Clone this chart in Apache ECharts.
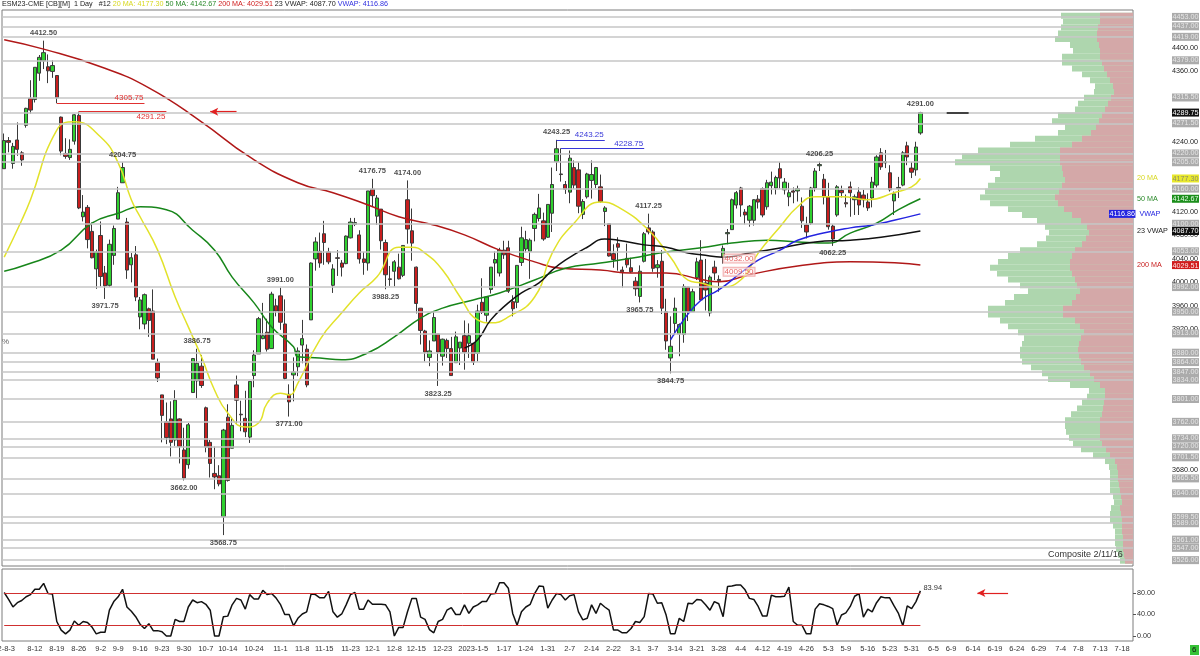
<!DOCTYPE html>
<html>
<head>
<meta charset="utf-8">
<script src="https://cdn.jsdelivr.net/npm/echarts@6/dist/echarts.min.js"></script>
<style>
html,body{margin:0;padding:0;background:#fff;}
#chart{width:1200px;height:656px;}
</style>
</head>
<body>
<div id="chart"></div>
<script>
// daily bars 2022-8-3 .. 2023-6-2, [open, close, low, high]
const candles = [
[4194,4242,4194,4254],[4242,4239,4222,4248],[4203,4232,4194,4238],[4243,4227,4216,4273],[4221,4209,4199,4224],
[4268,4297,4264,4298],[4314,4294,4288,4345],[4312,4367,4307,4367],[4357,4384,4344,4388],[4378,4392,4364,4412.5],
[4368,4361,4340,4389],[4360,4370,4349,4379],[4353,4315,4305.75,4353],[4282,4224,4217,4283],[4220,4215,4211,4246],
[4213,4227,4209,4244],[4241,4286,4235,4287],[4285,4127,4125,4291.25],[4112,4120,4104,4149],[4128,4073,4058,4132],
[4087,4042,4041,4102],[4023,4052,3989,4056],[4080,4010,3993,4104],[4016,3994,3971.75,4028],[3995,4065,3992,4073],
[4046,4092,4030,4097],[4108,4153,4108,4163],[4170,4196,4170,4204.75],[4103,4021,4006,4110],[4030,4042,4000,4050],
[4047,3975,3968,4062],[3941,3970,3920,3975],[3929,3979,3920,3981],[3955,3935,3907,3957],[3951,3869,3869,3988],
[3863,3837,3830,3870],[3808,3773,3727,3808],[3762,3735,3724,3795],[3767,3727,3703,3797],[3731,3799,3721,3816],
[3767,3720,3691,3768],[3714,3666,3662,3752],[3689,3757,3682,3760],[3812,3870,3812,3871],[3832,3862,3802,3886.75],
[3857,3824,3820,3876],[3786,3719,3710,3788],[3727,3691,3667,3731],[3674,3668,3647,3720],[3670,3656,3652,3688],
[3600,3748,3568.75,3750],[3770,3662,3660,3792],[3717,3756,3717,3768],[3825,3799,3759,3841],[3775,3774,3746,3798],
[3768,3745,3736,3815],[3736,3831,3726,3831],[3841,3876,3821,3884],[3878,3938,3878,3941],[3904,3909,3903,3965],
[3915,3886,3882,3938],[3887,3980,3887,3984],[3960,3951,3942,3972],[3977,3932,3919,3991],[3929,3836,3834,3971],
[3809,3796,3771,3826],[3842,3847,3797,3872],[3856,3883,3840,3889],[3893,3904,3862,3936],[3886,3825,3821,3894],
[3936,4033,3936,4034],[4040,4069,4020,4077],[4053,4033,4025,4085],[4083,4068,4030,4105],[4052,4035,4031,4059],
[3995,4023,3982,4031],[4042,4041,4011,4055],[4033,4026,4010,4038],[4032,4079,4031,4080],[4076,4103,4075,4110],
[4099,4102,4096,4110],[4081,4040,4032,4089],[4040,4034,4013,4052],[4033,4156,4020,4156],[4159,4148,4129,4176.75],
[4113,4144,4098,4149],[4125,4071,4056,4125],[4068,4013,3988.25,4073],[4006,4005,3994,4028],[4019,4035,3993,4038],
[4026,4006,4005,4049],[4012,4063,4009,4063],[4141,4091,4066,4174],[4088,4067,4037,4126],[4026,3964,3947,4027],
[3956,3918,3894,3956],[3917,3881,3865,3919],[3872,3883,3857,3901],[3900,3940,3900,3950],[3912,3881,3823.25,3912],
[3874,3903,3858,3904],[3901,3887,3871,3904],[3887,3841,3841,3907],[3863,3907,3863,3916],[3888,3898,3859,3898],
[3909,3881,3851,3935],[3896,3909,3871,3930],[3896,3864,3859,3896],[3879,3951,3865,3962],[3966,3949,3946,4007],
[3944,3975,3933,3975],[3988,4026,3981,4026],[4033,4039,3993,4053],[4016,4055,4010,4059],[4055,4047,4040,4071],
[4059,3985,3982,4071],[3967,3955,3942,3978],[3966,4029,3956,4029],[4034,4076,4028,4095],[4057,4073,4051,4088],
[4053,4072,4006,4075],[4092,4116,4070,4119],[4109,4127,4104,4151],[4105,4074,4071,4119],[4077,4133,4076,4133],
[4118,4167,4086,4196],[4206,4228,4190,4243.25],[4185,4184,4172,4228.75],[4167,4159,4151,4173],[4154,4212,4135,4225],
[4196,4166,4160,4208],[4192,4130,4118,4205],[4116,4138,4108,4142],[4146,4185,4143,4187],[4174,4184,4143,4208],
[4167,4196,4161,4197],[4163,4138,4136,4184],[4121,4127,4096,4130],[4100,4045,4044,4100],[4049,4039,4025,4065],
[4066,4060,4020,4077],[4021,4018,3991,4027],[4041,4030,4025,4066],[4025,4018,4016,4042],[4002,3989,3977,4009],
[3976,4019,3965.75,4029],[4036,4083,4034,4086],[4093,4086,4082,4117.25],[4086,4024,4018,4089],[4025,4030,4008,4038],
[4036,3956,3946,4055],[3950,3900,3885,3972],[3871,3891,3844.75,3942],[3930,3956,3910,3974],[3912,3928,3874,3930],
[3911,3993,3897,3997],[3992,3950,3934,3992],[3950,3984,3950,3989],[4008,4035,4004,4042],[4038,3970,3969,4072],
[3999,3987,3952,4040],[3948,4009,3942,4012],[4026,4016,4004,4037],[4005,4003,3984,4012],[4043,4058,4032,4063],
[4083,4085,4065,4091],[4090,4141,4090,4143],[4132,4153,4126,4156],[4161,4132,4112,4163],[4120,4115,4099,4125],
[4106,4130,4095,4132],[4106,4141,4097,4142],[4142,4137,4126,4149],[4160,4115,4111,4162],[4129,4170,4124,4175],
[4165,4171,4150,4189],[4161,4179,4150,4182],[4194,4178,4160,4205],[4158,4171,4150,4178],[4146,4153,4130,4170],
[4156,4154,4135,4162],[4156,4160,4138,4165],[4130,4105,4093,4145],[4098,4086,4075,4112],[4101,4161,4098,4163],
[4161,4190,4155,4195],[4199,4201,4190,4206.25],[4176,4146,4133,4185],[4146,4095,4090,4170],[4096,4074,4062.25,4099],
[4115,4163,4112,4166],[4157,4153,4145,4165],[4136,4134,4128,4150],[4163,4153,4112,4172],[4141,4146,4115,4150],
[4154,4132,4115,4162],[4149,4141,4128,4158],[4137,4127,4122,4152],[4144,4171,4128,4180],[4166,4214,4162,4217],
[4221,4197,4192,4229],[4204,4206,4195,4226],[4187,4158,4155,4200],[4139,4151,4115,4155],[4160,4162,4144,4180],
[4166,4221,4164,4224],[4233,4214,4200,4240],[4195,4188,4178,4205],[4192,4231,4182,4240],[4255,4289.75,4252,4291]
];

// stochastic-style oscillator, one value per bar
const osc = [
81,68,54,62,66,73,77,87,87,98, 79,78,27,11,4,11,28,20,27,25, 17,4,7,7,48,64,73,87,54,46,
36,22,14,23,10,10,8,0,0,31, 27,27,54,67,62,64,59,48,0,0, 36,37,58,70,67,50,77,69,69,85,
77,79,71,59,40,40,19,33,41,45, 78,77,71,71,83,45,35,41,58,77, 81,50,50,67,59,59,59,58,45,0,
16,16,45,70,70,35,31,12,6,27, 31,48,53,40,40,58,42,54,58,64, 64,78,79,99,99,89,42,20,45,54,
59,79,93,92,52,67,79,77,67,75, 77,45,30,33,58,42,61,54,48,11, 11,6,6,14,27,25,36,79,78,61,
62,39,4,4,33,27,61,60,68,67, 58,48,64,60,36,92,93,95,95,86, 70,68,55,37,37,76,73,73,74,91,
27,20,20,4,4,50,60,58,55,51, 20,39,43,55,74,79,35,50,45,62, 73,71,71,56,42,19,56,51,64,83.94
];

// indicator lines: [bar index, value]
const ma20 = [[0,4043],[4,4106],[6,4141],[12,4260],[16,4274],[22,4248],[26,4204],[29,4141],[31,4112],[35,4055],
[39,3975],[42,3924],[45,3873],[48,3816],[51,3777],[55,3753],[58,3760],[60,3794],[63,3811],[65,3808],[67,3828],
[72,3902],[77,3948],[81,3982],[85,4009],[90,4060],[93,4060],[96,4050],[100,4021],[104,3975],[108,3936],[111,3931],
[115,3941],[121,3975],[125,4050],[130,4101],[136,4137],[140,4129],[147,4089],[152,4043],[156,4004],[159,3999],
[163,3992],[168,4004],[172,4050],[177,4095],[181,4129],[185,4146],[191,4146],[197,4141],[203,4153],[207,4163],[209,4177.3]];
const ma50 = [[0,4019],[5,4030],[13,4055],[20,4101],[26,4118],[31,4129],[37,4124],[43,4089],[48,4055],[52,4009],
[57,3965],[61,3924],[66,3890],[67,3873],[72,3871],[77,3868],[83,3880],[89,3907],[95,3939],[100,3956],[107,3970],
[113,3982],[121,4004],[128,4024],[136,4033],[143,4041],[151,4052],[159,4059],[166,4067],[174,4072],[181,4069],
[188,4067],[193,4084],[199,4101],[204,4124],[209,4142.67]];
const ma200 = [[0,4414],[9,4398],[22,4368],[33,4332],[45,4274],[56,4214],[67,4170],[75,4153],[83,4132],[90,4112],
[98,4098],[105,4081],[113,4055],[121,4035],[127,4024],[136,4021],[143,4016],[151,4016],[159,4005],[163,4001],
[170,4013],[181,4028],[193,4035],[204,4033],[209,4029.51]];
const vwap23 = [[105,3888],[108,3902],[111,3936],[115,3965],[118,3982],[122,3999],[125,4021],[128,4038],[133,4060],
[137,4074],[140,4072],[146,4064],[151,4060],[156,4050],[159,4047],[164,4043],[170,4050],[178,4060],[185,4069],
[193,4072],[200,4077],[209,4087.7]];
const vwap = [[152,3902],[155,3936],[159,3970],[163,3987],[168,4016],[172,4038],[177,4055],[181,4072],[188,4086],
[193,4093],[198,4098],[203,4106],[209,4116.86]];

// swing labels
const highMarks = [[9,4412.5],[27,4204.75],[44,3886.75],[63,3991],[84,4176.75],[92,4174],[126,4243.25],[147,4117.25],[186,4206.25],[209,4291]];
const lowMarks = [[23,3971.75],[41,3662],[50,3568.75],[65,3771],[87,3988.25],[99,3823.25],[145,3965.75],[152,3844.75],[189,4062.25]];

// x tick labels
const tickIdx = [0,7,12,17,22,26,31,36,41,46,51,57,63,68,73,79,84,89,94,100,107,114,119,124,129,134,139,144,148,153,
158,163,168,173,178,183,188,192,197,202,207,212,216,221,226,231,236,241,245,250,255];
const tickLabels = ['22-8-3','8-12','8-19','8-26','9-2','9-9','9-16','9-23','9-30','10-7','10-14','10-24','11-1','11-8',
'11-15','11-23','12-1','12-8','12-15','12-23','2023-1-5','1-17','1-24','1-31','2-7','2-14','2-22','3-1','3-7','3-14',
'3-21','3-28','4-4','4-12','4-19','4-26','5-3','5-9','5-16','5-23','5-31','6-5','6-9','6-14','6-19','6-24','6-29',
'7-4','7-8','7-13','7-18'];

// price axis
const plainTicks = [4400,4360,4240,4120,4080,4040,4000,3960,3920,3680];
const levelPrices = [4453,4437,4419,4379,4315.5,4271.5,4220,4205,4160,4100,4053,3992,3950,3913,3880,3864,3847,3834,
3801,3762,3734,3720,3701.5,3665.5,3640,3599.5,3589,3561,3547,3526];
const lastPrice = 4289.75;

// volume profile, 10-pt bins from 4455 down to 3525
const profPrices = [4455,4445,4435,4425,4415,4405,4395,4385,4375,4365,4355,4345,4335,4325,4315,4305,4295,4285,4275,4265,
4255,4245,4235,4225,4215,4205,4195,4185,4175,4165,4155,4145,4135,4125,4115,4105,4095,4085,4075,4065,4055,4045,4035,
4025,4015,4005,3995,3985,3975,3965,3955,3945,3935,3925,3915,3905,3895,3885,3875,3865,3855,3845,3835,3825,3815,3805,
3795,3785,3775,3765,3755,3745,3735,3725,3715,3705,3695,3685,3675,3665,3655,3645,3635,3625,3615,3605,3595,3585,3575,
3565,3555,3545,3535,3525];
const profTotal = [72,70,72,75,78,63,60,71,71,61,51,43,38,39,49,55,58,75,81,68,75,98,123,155,171,178,143,133,138,145,
148,153,143,125,111,96,88,84,87,96,113,125,135,143,136,125,113,105,119,128,145,145,133,125,115,109,111,113,113,111,
102,91,85,63,44,46,51,56,62,68,68,67,64,60,52,40,28,24,23,23,23,23,20,19,22,23,23,20,18,18,18,17,15,13];
const profSell = [33,33,35,36,36,34,33,33,31,29,26,23,20,19,22,25,28,31,34,37,42,51,61,73,73,73,71,70,68,71,
74,78,75,69,61,52,46,44,47,51,58,61,63,63,61,58,56,53,57,61,70,70,58,53,49,52,54,55,54,52,
49,43,39,33,28,28,29,30,31,33,33,33,33,31,27,23,18,16,15,15,14,13,12,11,13,12,11,11,11,10,10,10,9,8];

const SLOTS = 258;
const slots = Array.from({length: SLOTS}, (_, i) => i);
const labelMap = {};
tickIdx.forEach((i, k) => { labelMap[i] = tickLabels[k]; });
const FONT = '"Liberation Sans", Arial, sans-serif';
const last = arr => arr[arr.length - 1][1];

const C_YEL = '#e2e22a', C_GRN = '#17861a', C_RED = '#b01818', C_BLU = '#2424e0';
const LBL = 7.2;

function maLabel(name, val, nameColor, boxBg, boxColor) {
    return {
        yAxis: val,
        lineStyle: { color: 'rgba(0,0,0,0)' },
        label: {
            distance: 4, backgroundColor: 'transparent', padding: 0,
            formatter: '{n|' + name + '}{v|' + val.toFixed(2) + '}',
            rich: {
                n: { color: nameColor, width: 35, fontSize: LBL, fontFamily: FONT },
                v: { backgroundColor: boxBg, color: boxColor, fontSize: LBL, padding: [1, 0.5, 0, 0.5], fontFamily: FONT }
            }
        }
    };
}

function seg(x1, x2, y, color, labelPos, text, width) {
    return [
        { coord: [x1, y], lineStyle: { color: color, width: width || 1 },
          label: text ? { show: true, position: labelPos, formatter: text, color: color, backgroundColor: 'transparent',
                          fontSize: 8, distance: 1, padding: 0 } : { show: false } },
        { coord: [x2, y] }
    ];
}

const markData = levelPrices.map(p => ({ yAxis: p, label: { formatter: p.toFixed(2) } }));
markData.push({ yAxis: lastPrice, label: { formatter: lastPrice.toFixed(2), backgroundColor: '#111', color: '#fff' } });
markData.push(maLabel('20 MA', last(ma20), '#d8d820', '#e8e82c', '#8c8c6a'));
markData.push(maLabel('50 MA', last(ma50), '#2a8a2a', '#1c8e1c', '#e6ffe6'));
markData.push(maLabel('200 MA', last(ma200), '#c82020', '#d01c1c', '#ffe6e6'));
markData.push(maLabel('23 VWAP', last(vwap23), '#222', '#111', '#fff'));
markData.push({
    yAxis: last(vwap), lineStyle: { color: 'rgba(0,0,0,0)' },
    label: { distance: 4, offset: [-28, 0], backgroundColor: 'transparent', padding: 0,
        formatter: '{v|' + last(vwap).toFixed(2) + '}{n|  VWAP}',
        rich: { v: { backgroundColor: C_BLU, color: '#fff', fontSize: LBL, padding: [1, 0.5, 0, 0.5], fontFamily: FONT },
                n: { color: C_BLU, fontSize: LBL, fontFamily: FONT } } }
});
markData.push(seg(12, 32, 4305.75, '#e03030', 'insideEndTop', '4305.75'));
markData.push(seg(17, 37, 4291.25, '#e03030', 'insideEndBottom', '4291.25'));
markData.push(seg(126, 137, 4243.25, '#3838d8', 'insideEndTop', '4243.25'));
markData.push(seg(127, 146, 4228.75, '#3838d8', 'insideEndTop', '4228.75'));
markData.push(seg(215, 220, lastPrice, '#111', null, null, 1.5));
markData.push([
    { coord: [53, 4291.25], symbol: 'none', lineStyle: { color: '#e02020', width: 1.2 }, label: { show: false } },
    { coord: [46.5, 4291.25], symbol: 'arrow', symbolSize: [6, 8] }
]);

const chart = echarts.init(document.getElementById('chart'));
chart.setOption({
    animation: false,
    backgroundColor: '#fff',
    textStyle: { fontFamily: FONT },
    grid: [
        { left: 2, right: 67, top: 10, bottom: 90, show: true, borderColor: '#7d7d7d', borderWidth: 1, outerBoundsMode: 'none' },
        { left: 2, right: 67, top: 569, bottom: 15, show: true, borderColor: '#7d7d7d', borderWidth: 1, outerBoundsMode: 'none' },
        { left: 833, right: 67, top: 12.8, bottom: 92.3, outerBoundsMode: 'none' }
    ],
    xAxis: [
        { type: 'category', gridIndex: 0, data: slots, boundaryGap: true,
          axisLine: { show: false }, axisTick: { show: false }, axisLabel: { show: false }, splitLine: { show: false } },
        { type: 'category', gridIndex: 1, data: slots, boundaryGap: true,
          axisLine: { show: false }, axisTick: { show: false }, splitLine: { show: false },
          axisLabel: { interval: i => labelMap[i] !== undefined, formatter: v => labelMap[Number(v)] || '',
                       fontSize: 7.5, color: '#333', margin: 4, fontFamily: FONT } },
        { type: 'value', gridIndex: 2, inverse: true, min: 0, max: 300, show: false }
    ],
    yAxis: [
        { type: 'value', gridIndex: 0, position: 'right', min: 3516, max: 4464.8, scale: true,
          axisLine: { show: false }, axisTick: { show: false }, splitLine: { show: false },
          axisLabel: { customValues: plainTicks, formatter: v => v.toFixed(2), fontSize: LBL, color: '#222',
                       margin: 39, fontFamily: FONT } },
        { type: 'value', gridIndex: 1, position: 'right', min: -9.3, max: 124.7,
          axisLine: { show: false }, splitLine: { show: false },
          axisTick: { show: true, customValues: [0, 40, 80], length: 3, lineStyle: { color: '#555' } },
          axisLabel: { customValues: [0, 40, 80], formatter: v => v.toFixed(2), fontSize: LBL, color: '#333',
                       margin: 4, fontFamily: FONT } },
        { type: 'category', gridIndex: 2, data: profPrices, inverse: true, show: false }
    ],
    graphic: [
        { type: 'text', left: 2, top: 1, z: 100, style: {
            text: '{k|ESM23-CME [CB][M]  1 Day   #12 }{y|20 MA: ' + last(ma20).toFixed(2) + ' }{g|50 MA: ' + last(ma50).toFixed(2) +
                  ' }{r|200 MA: ' + last(ma200).toFixed(2) + ' }{k|23 VWAP: ' + last(vwap23).toFixed(2) + ' }{b|VWAP: ' + last(vwap).toFixed(2) + '}',
            font: '7.2px ' + FONT,
            rich: { k: { fill: '#222', fontSize: 7.2 }, y: { fill: '#d8d820', fontSize: 7.2 }, g: { fill: '#2a8a2a', fontSize: 7.2 },
                    r: { fill: '#d02020', fontSize: 7.2 }, b: { fill: '#3030e0', fontSize: 7.2 } } } },
        { type: 'text', left: 2, top: 338, z: 100, style: { text: '%', fill: '#666', font: '8px ' + FONT } },
        { type: 'text', left: 1048, top: 550, z: 100, style: { text: 'Composite 2/11/16', fill: '#333', font: '9px ' + FONT } },
        { type: 'rect', left: 1190, top: 645, z: 100, shape: { width: 9, height: 10 }, style: { fill: '#36c236' } },
        { type: 'text', left: 1192, top: 646, z: 101, style: { text: '6', fill: '#111', font: '8px ' + FONT } }
    ],
    series: [
        { name: 'profile', type: 'bar', xAxisIndex: 2, yAxisIndex: 2, data: profTotal, barWidth: '100%',
          itemStyle: { color: '#aed6ae' }, silent: true, z: 1 },
        { name: 'profile sell', type: 'bar', xAxisIndex: 2, yAxisIndex: 2, data: profSell, barWidth: '100%',
          barGap: '-100%', itemStyle: { color: '#d4a8a8' }, silent: true, z: 1 },
        { name: 'ESM23', type: 'candlestick', xAxisIndex: 0, yAxisIndex: 0, data: candles, barWidth: 3.8, z: 3,
          itemStyle: { color: '#2fd02f', color0: '#c81e1e', borderColor: '#3a3a3a', borderColor0: '#3a3a3a', borderWidth: 1 },
          markLine: { symbol: 'none', silent: true, precision: 2,
                      lineStyle: { color: '#c6c6c6', width: 1.5, type: 'solid' },
                      label: { position: 'end', distance: 39, backgroundColor: '#ababab', color: '#e6e6e6', fontSize: LBL,
                               padding: [1, 0.5, 0, 0.5], fontFamily: FONT },
                      data: markData } },
        { name: '200 MA', type: 'line', xAxisIndex: 0, yAxisIndex: 0, data: ma200, smooth: true, showSymbol: false,
          lineStyle: { color: C_RED, width: 1.5 }, z: 4 },
        { name: '50 MA', type: 'line', xAxisIndex: 0, yAxisIndex: 0, data: ma50, smooth: true, showSymbol: false,
          lineStyle: { color: C_GRN, width: 1.5 }, z: 4 },
        { name: '20 MA', type: 'line', xAxisIndex: 0, yAxisIndex: 0, data: ma20, smooth: true, showSymbol: false,
          lineStyle: { color: C_YEL, width: 1.5 }, z: 4 },
        { name: '23 VWAP', type: 'line', xAxisIndex: 0, yAxisIndex: 0, data: vwap23, smooth: true, showSymbol: false,
          lineStyle: { color: '#111', width: 1.5 }, z: 4 },
        { name: 'VWAP', type: 'line', xAxisIndex: 0, yAxisIndex: 0, data: vwap, smooth: true, showSymbol: false,
          lineStyle: { color: C_BLU, width: 1.5 }, z: 4 },
        { name: 'highs', type: 'scatter', xAxisIndex: 0, yAxisIndex: 0, data: highMarks, symbolSize: 1,
          itemStyle: { color: 'rgba(0,0,0,0)' }, z: 6,
          label: { show: true, position: 'top', distance: 3, formatter: p => p.value[1].toFixed(2),
                   fontSize: 7.5, fontWeight: 'bold', color: '#222' } },
        { name: 'lows', type: 'scatter', xAxisIndex: 0, yAxisIndex: 0, data: lowMarks, symbolSize: 1,
          itemStyle: { color: 'rgba(0,0,0,0)' }, z: 6,
          label: { show: true, position: 'bottom', distance: 3, formatter: p => p.value[1].toFixed(2),
                   fontSize: 7.5, fontWeight: 'bold', color: '#222' } },
        { name: 'levels', type: 'scatter', xAxisIndex: 0, yAxisIndex: 0, data: [[164, 4032], [164.3, 4009.5]],
          symbolSize: 1, itemStyle: { color: 'rgba(0,0,0,0)' }, z: 6,
          label: { show: true, position: 'right', distance: 0, offset: [0, -5], formatter: p => p.value[1].toFixed(2),
                   fontSize: 8, color: '#e03a3a', borderColor: '#f0a0a0', borderWidth: 1, padding: [0, 1],
                   backgroundColor: 'rgba(255,255,255,0.6)' } },
        { name: 'osc', type: 'line', xAxisIndex: 1, yAxisIndex: 1, data: osc, showSymbol: false,
          lineStyle: { color: '#111', width: 1.5 }, z: 4,
          endLabel: { show: true, formatter: '83.94', fontSize: 7.5, color: '#333', distance: 3, offset: [0, -3] },
          markLine: { symbol: 'none', silent: true, lineStyle: { color: '#d03030', width: 1, type: 'solid' },
                      label: { show: false },
                      data: [
                          [{ coord: [0, 80] }, { coord: [209, 80] }],
                          [{ coord: [0, 20] }, { coord: [209, 20] }],
                          [{ coord: [229, 80], symbol: 'none', lineStyle: { color: '#e02020', width: 1.2 } },
                           { coord: [222, 80], symbol: 'arrow', symbolSize: [6, 8] }]
                      ] } }
    ]
});
</script>
</body>
</html>
